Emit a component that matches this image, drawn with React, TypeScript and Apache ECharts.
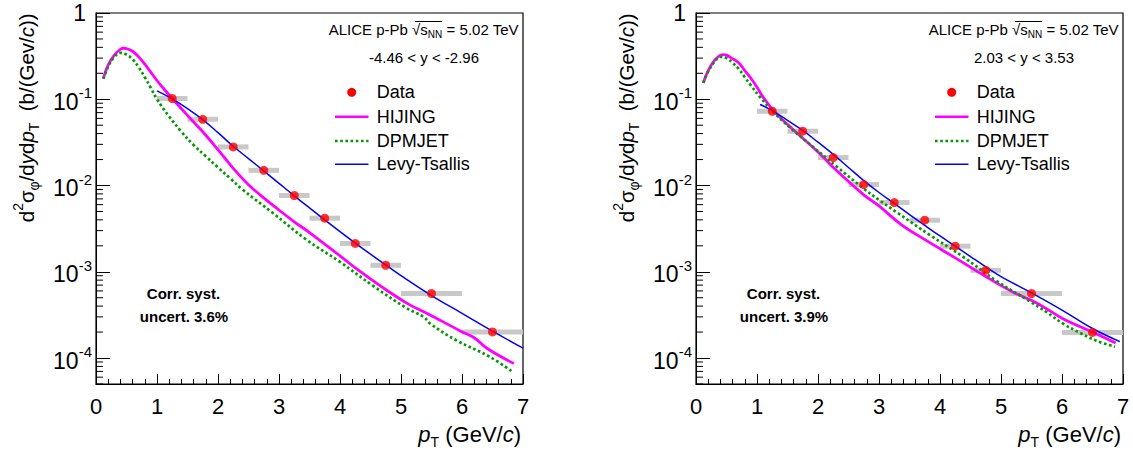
import React, { useEffect, useRef } from 'react';
import * as echarts from 'echarts';

const FONT = '"Liberation Sans", Arial, Helvetica, sans-serif';

// ---------- data ----------
const dataPt = [1.25, 1.75, 2.25, 2.75, 3.25, 3.75, 4.25, 4.75, 5.5, 6.5];
const dataPtLow = [1.0, 1.5, 2.0, 2.5, 3.0, 3.5, 4.0, 4.5, 5.0, 6.0];
const dataPtHigh = [1.5, 2.0, 2.5, 3.0, 3.5, 4.0, 4.5, 5.0, 6.0, 7.0];
const dataBackward = [0.102, 0.0586, 0.028, 0.015, 0.00766, 0.00418, 0.00213, 0.00119, 0.00056, 0.000201];
const dataForward = [0.0726, 0.0426, 0.0211, 0.01026, 0.00635, 0.00396, 0.00198, 0.00104, 0.00056, 0.000198];

const hijingBwdPt = [0.12, 0.2, 0.3, 0.4, 0.45, 0.5, 0.6, 0.7, 0.8, 0.9, 1.0, 1.1, 1.25, 1.5, 1.75, 2.0, 2.25, 2.5, 2.75, 3.0, 3.25, 3.5, 4.0, 4.28, 4.63, 5.1, 5.39, 5.98, 6.2, 6.42, 6.85];
const hijingBwdVal = [0.175, 0.25, 0.325, 0.38, 0.39, 0.387, 0.36, 0.31, 0.255, 0.205, 0.165, 0.135, 0.102, 0.065, 0.042, 0.026, 0.0158, 0.0102, 0.0072, 0.0052, 0.0038, 0.00285, 0.00153, 0.00107, 0.00071, 0.00043, 0.00034, 0.000205, 0.000172, 0.000128, 0.0000865];

const dpmjetBwdPt = [0.12, 0.2, 0.3, 0.4, 0.5, 0.6, 0.7, 0.8, 0.9, 1.0, 1.2, 1.4, 1.6, 1.8, 2.0, 2.2, 2.4, 2.9, 3.45, 4.0, 4.55, 5.09, 5.37, 5.48, 5.91, 6.46, 6.84];
const dpmjetBwdVal = [0.172, 0.24, 0.31, 0.345, 0.33, 0.29, 0.235, 0.18, 0.135, 0.1, 0.063, 0.042, 0.0295, 0.0218, 0.0162, 0.0121, 0.009, 0.0048, 0.00235, 0.0013, 0.00068, 0.00038, 0.0003, 0.00025, 0.00016, 0.000103, 0.000068];

const levyBwdPt = [1.0, 1.25, 1.5, 1.75, 2.0, 2.25, 2.5, 2.75, 3.0, 3.25, 3.5, 3.75, 4.0, 4.25, 4.5, 4.75, 5.0, 5.5, 6.0, 6.5, 7.0];
const levyBwdVal = [0.125, 0.101, 0.078, 0.058, 0.041, 0.0285, 0.0205, 0.0148, 0.0106, 0.0076, 0.0055, 0.004, 0.00292, 0.00215, 0.0016, 0.0012, 0.0009, 0.00053, 0.00033, 0.000205, 0.00013];

const hijingFwdPt = [0.12, 0.2, 0.3, 0.4, 0.45, 0.5, 0.6, 0.7, 0.8, 0.9, 1.0, 1.1, 1.3, 1.6, 2.0, 2.3, 2.75, 3.0, 3.37, 3.8, 4.25, 4.75, 5.2, 5.6, 6.0, 6.5, 6.88];
const hijingFwdVal = [0.155, 0.215, 0.28, 0.325, 0.33, 0.325, 0.295, 0.265, 0.215, 0.175, 0.138, 0.106, 0.07, 0.044, 0.0245, 0.015, 0.0078, 0.0058, 0.0035, 0.00225, 0.00145, 0.00088, 0.00058, 0.00043, 0.00029, 0.0002, 0.000149];

const dpmjetFwdPt = [0.12, 0.2, 0.3, 0.4, 0.5, 0.6, 0.7, 0.8, 0.9, 1.05, 1.27, 1.54, 1.92, 2.31, 2.74, 3.0, 3.29, 3.84, 4.38, 4.93, 5.48, 5.75, 6.02, 6.3, 6.57, 6.87];
const dpmjetFwdVal = [0.155, 0.21, 0.27, 0.31, 0.3, 0.265, 0.225, 0.18, 0.145, 0.106, 0.071, 0.047, 0.028, 0.0165, 0.0093, 0.0068, 0.0049, 0.00265, 0.00149, 0.00078, 0.00045, 0.00034, 0.00025, 0.000195, 0.000158, 0.000135];

const levyFwdPt = [1.05, 1.25, 1.5, 1.75, 2.0, 2.25, 2.5, 2.75, 3.0, 3.25, 3.5, 3.75, 4.0, 4.25, 4.5, 4.75, 5.0, 5.5, 6.0, 6.5, 6.95];
const levyFwdVal = [0.087, 0.074, 0.057, 0.0435, 0.0318, 0.023, 0.0162, 0.0114, 0.0083, 0.0062, 0.0046, 0.00345, 0.0026, 0.00198, 0.0015, 0.00114, 0.00088, 0.00057, 0.00036, 0.00022, 0.000155];

const xTickValues = [0, 1, 2, 3, 4, 5, 6, 7];
const yMin = 5e-5;
const yMax = 1;
const legendNames = ['Data', 'HIJING', 'DPMJET', 'Levy-Tsallis'];
const rangeLabels = ['-4.46 < y < -2.96', '2.03 < y < 3.53'];
const corrLabels = ['uncert. 3.6%', 'uncert. 3.9%'];

// minor tick values on log axis (2..9 x 10^n)
const yMinorTicks: number[] = [];
for (let e = -5; e <= -1; e++) {
  for (let m = 2; m <= 9; m++) {
    const v = m * Math.pow(10, e);
    if (v >= yMin && v < yMax) yMinorTicks.push(v);
  }
}

const COLORS = { data: '#ff0000', hijing: '#ff00ff', dpmjet: '#009900', levy: '#0000ff', syst: '#c8c8c8' };

function pairs(xs: number[], ys: number[]) {
  return xs.map((x, i) => [x, ys[i]]);
}

function panelSeries(idx: number, data: number[], hPt: number[], hVal: number[], dPt: number[], dVal: number[], lPt: number[], lVal: number[]) {
  return [
    {
      type: 'custom', name: 'syst' + idx, xAxisIndex: idx, yAxisIndex: idx, z: 1, clip: false,
      encode: { x: [0, 1], y: 2 },
      data: dataPt.map((_, i) => [dataPtLow[i], dataPtHigh[i], data[i]]),
      renderItem: (params: any, api: any) => {
        const p1 = api.coord([api.value(0), api.value(2)]);
        const p2 = api.coord([api.value(1), api.value(2)]);
        return { type: 'rect', shape: { x: p1[0], y: p1[1] - 2.5, width: p2[0] - p1[0], height: 5 }, style: { fill: COLORS.syst } };
      },
    },
    {
      type: 'line', name: 'HIJING', xAxisIndex: idx, yAxisIndex: idx, z: 2, symbol: 'none', smooth: 0.4,
      lineStyle: { color: COLORS.hijing, width: 2.8 }, data: pairs(hPt, hVal),
    },
    {
      type: 'line', name: 'DPMJET', xAxisIndex: idx, yAxisIndex: idx, z: 2, symbol: 'none', smooth: 0.4,
      lineStyle: { color: COLORS.dpmjet, width: 2.7, type: [2.6, 2.6], cap: 'butt' }, data: pairs(dPt, dVal),
    },
    {
      type: 'line', name: 'Levy-Tsallis', xAxisIndex: idx, yAxisIndex: idx, z: 3, symbol: 'none', smooth: 0.4,
      lineStyle: { color: COLORS.levy, width: 1.5 }, data: pairs(lPt, lVal),
    },
    {
      type: 'scatter', name: 'Data', xAxisIndex: idx, yAxisIndex: idx, z: 4, symbol: 'circle', symbolSize: 9,
      itemStyle: { color: COLORS.data }, data: pairs(dataPt, data),
    },
    {
      type: 'custom', name: 'minorTicks' + idx, xAxisIndex: idx, yAxisIndex: idx, z: 5, clip: false, silent: true,
      encode: { x: 0, y: 1 },
      data: yMinorTicks.map((v) => [0, v]),
      renderItem: (params: any, api: any) => {
        const p = api.coord([api.value(0), api.value(1)]);
        return { type: 'line', shape: { x1: p[0], y1: p[1], x2: p[0] + 7, y2: p[1] }, style: { stroke: '#000', lineWidth: 1 } };
      },
    },
  ];
}

function textStyle(text: string, x: number, y: number, size: number, align: string, extra: any = {}) {
  return {
    type: 'text', x, y, z: 10, silent: true,
    style: {
      text, fill: '#000', fontSize: size, fontFamily: FONT,
      align, verticalAlign: 'middle', textAlign: align, textVerticalAlign: 'middle',
      ...extra,
    },
  };
}

function panelGraphics(p: number) {
  const ox = p * 600;
  const els: any[] = [];
  // header
  els.push(textStyle('{n|ALICE p-Pb }{n|\u221A}{n|s}{sub|NN}{n| = 5.02 TeV}', 518.5 + ox, 29.5, 15, 'right', {
    rich: {
      n: { fontSize: 15, fontFamily: FONT, fill: '#000', lineHeight: 20 },
      sub: { fontSize: 10, fontFamily: FONT, fill: '#000', lineHeight: 10, verticalAlign: 'bottom' },
    },
  }));
  els.push({ type: 'line', z: 10, silent: true, shape: { x1: 415 + ox, y1: 21.5, x2: 442 + ox, y2: 21.5 }, style: { stroke: '#000', lineWidth: 1 } });
  els.push(textStyle(rangeLabels[p], 424 + ox, 57, 15, 'center'));
  // legend
  els.push({ type: 'circle', z: 10, silent: true, shape: { cx: 351.7 + ox, cy: 92.3, r: 4.5 }, style: { fill: COLORS.data } });
  els.push({ type: 'line', z: 10, silent: true, shape: { x1: 335 + ox, y1: 116.7, x2: 368.5 + ox, y2: 116.7 }, style: { stroke: COLORS.hijing, lineWidth: 2.5 } });
  els.push({ type: 'line', z: 10, silent: true, shape: { x1: 335 + ox, y1: 141, x2: 368.5 + ox, y2: 141 }, style: { stroke: COLORS.dpmjet, lineWidth: 2.5, lineDash: [2.6, 2.6] } });
  els.push({ type: 'line', z: 10, silent: true, shape: { x1: 335 + ox, y1: 164.3, x2: 368.5 + ox, y2: 164.3 }, style: { stroke: COLORS.levy, lineWidth: 1.5 } });
  const ly = [92.3, 116.7, 141, 164.3];
  legendNames.forEach((n, i) => els.push(textStyle(n, 376.7 + ox, ly[i], 18, 'left')));
  // corr syst
  els.push(textStyle('Corr. syst.', 183.5 + ox, 293.3, 15, 'center', { fontWeight: 'bold' }));
  els.push(textStyle(corrLabels[p], 184 + ox, 316, 15, 'center', { fontWeight: 'bold' }));
  // y title
  els.push({
    type: 'text', x: 26 + ox, y: 13.3, rotation: Math.PI / 2, z: 10, silent: true,
    style: {
      text: '{n|d}{sup|2}{n|\u03C3}{sub|\u03C6}{n|/d}{i|y}{n|d}{i|p}{sub|T}{n|  (b/(Gev/}{i|c}{n|))}',
      align: 'right', verticalAlign: 'middle', textAlign: 'right', textVerticalAlign: 'middle',
      fill: '#000', fontSize: 20.5, fontFamily: FONT,
      rich: {
        n: { fontSize: 20.5, fontFamily: FONT, fill: '#000', lineHeight: 30 },
        i: { fontSize: 20.5, fontFamily: FONT, fill: '#000', lineHeight: 30, fontStyle: 'italic' },
        sup: { fontSize: 14, fontFamily: FONT, fill: '#000', lineHeight: 14, verticalAlign: 'top' },
        sub: { fontSize: 14, fontFamily: FONT, fill: '#000', lineHeight: 14, verticalAlign: 'bottom' },
      },
    },
  });
  // x title
  els.push(textStyle('{i|p}{sub|T}{n| (GeV/}{i|c}{n|)}', 521 + ox, 434, 22, 'right', {
    rich: {
      n: { fontSize: 22, fontFamily: FONT, fill: '#000', lineHeight: 30 },
      i: { fontSize: 22, fontFamily: FONT, fill: '#000', lineHeight: 30, fontStyle: 'italic' },
      sub: { fontSize: 14, fontFamily: FONT, fill: '#000', lineHeight: 14, verticalAlign: 'bottom' },
    },
  }));
  return els;
}

function xAxisDef(idx: number) {
  return {
    type: 'value', gridIndex: idx, min: 0, max: 7, interval: 1,
    axisLine: { show: true, lineStyle: { color: '#000', width: 1 } },
    axisTick: { show: true, inside: true, length: 10, lineStyle: { color: '#000', width: 1 } },
    minorTick: { show: true, splitNumber: 5, length: 5, lineStyle: { color: '#000', width: 1 } },
    splitLine: { show: false },
    axisLabel: {
      margin: 11, fontSize: 22, fontFamily: FONT, color: '#000',
      formatter: (v: number) => (xTickValues.indexOf(v) >= 0 ? String(v) : ''),
    },
  };
}

function yAxisDef(idx: number) {
  return {
    type: 'log', logBase: 10, gridIndex: idx, min: yMin, max: yMax,
    axisLine: { show: true, lineStyle: { color: '#000', width: 1 } },
    axisTick: { show: true, inside: true, length: 14, lineStyle: { color: '#000', width: 1 } },
    splitLine: { show: false },
    axisLabel: {
      margin: 4, fontFamily: FONT, color: '#000',
      formatter: (v: number) => {
        const l = Math.log10(v);
        const e = Math.round(l);
        if (Math.abs(l - e) > 1e-6) return '';
        if (e === 0) return '{one|1}';
        return '{b|10}{s|' + e + '}';
      },
      rich: {
        one: { fontSize: 23, fontFamily: FONT, color: '#000', lineHeight: 28, padding: [0, 6, 0, 0] },
        b: { fontSize: 23, fontFamily: FONT, color: '#000', lineHeight: 28, padding: [5, 0, 0, 0] },
        s: { fontSize: 15, fontFamily: FONT, color: '#000', lineHeight: 15, verticalAlign: 'top' },
      },
    },
  };
}

export default function App() {
  const ref = useRef<HTMLDivElement>(null);
  useEffect(() => {
    if (!ref.current) return;
    const chart = echarts.init(ref.current, null, { renderer: 'svg' });
    const option: any = {
      animation: false,
      backgroundColor: '#ffffff',
      grid: [
        { left: 96, top: 13, width: 427, height: 371, show: true, borderColor: '#000', borderWidth: 1.2, backgroundColor: 'transparent' },
        { left: 696, top: 13, width: 427, height: 371, show: true, borderColor: '#000', borderWidth: 1.2, backgroundColor: 'transparent' },
      ],
      xAxis: [xAxisDef(0), xAxisDef(1)],
      yAxis: [yAxisDef(0), yAxisDef(1)],
      series: [
        ...panelSeries(0, dataBackward, hijingBwdPt, hijingBwdVal, dpmjetBwdPt, dpmjetBwdVal, levyBwdPt, levyBwdVal),
        ...panelSeries(1, dataForward, hijingFwdPt, hijingFwdVal, dpmjetFwdPt, dpmjetFwdVal, levyFwdPt, levyFwdVal),
      ],
      graphic: [...panelGraphics(0), ...panelGraphics(1)],
    };
    chart.setOption(option);
    return () => chart.dispose();
  }, []);
  return <div ref={ref} style={{ position: 'fixed', left: 0, top: 0, width: 1133, height: 457, background: '#fff' }} />;
}
